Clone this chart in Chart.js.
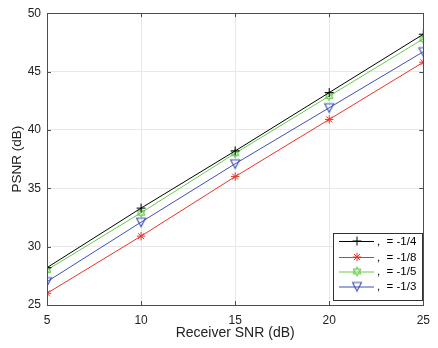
<!DOCTYPE html>
<html><head><meta charset="utf-8">
<script src="https://cdn.jsdelivr.net/npm/chart.js@4.4.0/dist/chart.umd.min.js"></script>
<style>html,body{margin:0;padding:0;background:#fff;}#wrap{width:438px;height:348px;}</style>
</head><body><div id="wrap"><canvas id="c" width="438" height="348"></canvas></div>
<script>
const snr = [5, 10, 15, 20, 25];
const seriesA = [28.2, 33.3, 38.2, 43.2, 48.2]; // -1/4
const seriesB = [26.0, 30.9, 36.0, 40.9, 45.8]; // -1/8
const seriesC = [28.0, 32.9, 38.0, 42.9, 47.8]; // -1/5
const seriesD = [27.0, 32.1, 37.1, 41.9, 46.7]; // -1/3
const labels = [',  = -1/4', ',  = -1/8', ',  = -1/5', ',  = -1/3'];
const yTicks = [25, 30, 35, 40, 45, 50];
const xTicks = [5, 10, 15, 20, 25];

function hexagram(color){
  const s=12, c=document.createElement('canvas'); c.width=s; c.height=s;
  const g=c.getContext('2d'); g.strokeStyle=color; g.lineWidth=1;
  const cx=s/2, cy=s/2, r=4.6;
  for(let k=0;k<2;k++){
    g.beginPath();
    for(let i=0;i<3;i++){
      const a=-Math.PI/2 + k*Math.PI + i*2*Math.PI/3;
      const x=cx+r*Math.cos(a), y=cy+r*Math.sin(a);
      if(i===0) g.moveTo(x,y); else g.lineTo(x,y);
    }
    g.closePath(); g.stroke();
  }
  return c;
}
function downTri(color){
  const s=12, c=document.createElement('canvas'); c.width=s; c.height=s;
  const g=c.getContext('2d'); g.strokeStyle=color; g.lineWidth=1.1;
  g.beginPath(); g.moveTo(1.5,2); g.lineTo(10.5,2); g.lineTo(6,10.5); g.closePath(); g.stroke();
  return c;
}
const colA='#000000', colB='#ea3326', colC='#66cc4c', colD='#3f51b5';
const mk = (data,col,label,style,rad)=>({
  label, data: data.map((v,i)=>({x:snr[i],y:v})), borderColor:col, backgroundColor:'rgba(0,0,0,0)',
  borderWidth:1, pointStyle:style, pointRadius:rad, pointBorderColor:col, pointBorderWidth:1,
  tension:0, fill:false
});
const datasets = [
  mk(seriesA,colA,labels[0],'cross',4.5),
  mk(seriesB,colB,labels[1],'star',4.2),
  mk(seriesC,colC,labels[2],hexagram(colC),5),
  mk(seriesD,colD,labels[3],downTri(colD),5),
];
const FONT='"Liberation Sans", Arial, sans-serif';

const frame = {
  id:'frame',
  afterDraw(chart){
    const {ctx, chartArea:a, scales:{x,y}} = chart;
    ctx.save();
    ctx.strokeStyle='#4d4d4d'; ctx.lineWidth=1;
    ctx.strokeRect(Math.round(a.left)+0.5, Math.round(a.top)+0.5, Math.round(a.right-a.left), Math.round(a.bottom-a.top));
    ctx.beginPath();
    xTicks.forEach(v=>{const px=Math.round(x.getPixelForValue(v))+0.5;
      ctx.moveTo(px,a.bottom); ctx.lineTo(px,a.bottom-4); ctx.moveTo(px,a.top); ctx.lineTo(px,a.top+4);});
    yTicks.forEach(v=>{const py=Math.round(y.getPixelForValue(v))+0.5;
      ctx.moveTo(a.left,py); ctx.lineTo(a.left+4,py); ctx.moveTo(a.right,py); ctx.lineTo(a.right-4,py);});
    ctx.stroke();
    // legend
    const L=333.5, T=233.5, W=89, H=67;
    ctx.fillStyle='#fff'; ctx.fillRect(L,T,W,H);
    ctx.strokeStyle='#333'; ctx.strokeRect(L,T,W,H);
    const rows=[241,257,271.5,286.5];
    ctx.font='11.5px '+FONT; ctx.textBaseline='middle'; ctx.fillStyle='#000';
    chart.data.datasets.forEach((ds,i)=>{
      const yy=rows[i];
      ctx.strokeStyle=ds.borderColor; ctx.lineWidth=1;
      ctx.beginPath(); ctx.moveTo(339,yy+0.5); ctx.lineTo(374,yy+0.5); ctx.stroke();
      Chart.helpers.drawPoint(ctx,{pointStyle:ds.pointStyle,radius:ds.pointRadius,rotation:0,borderWidth:1},357,yy);
      ctx.fillStyle='#000';
      ctx.fillText(ds.label,377,yy+0.5);
    });
    ctx.restore();
  }
};

new Chart(document.getElementById('c'), {
  type:'line',
  data:{datasets},
  plugins:[frame],
  options:{
    responsive:false, animation:false, maintainAspectRatio:false,
    layout:{padding:{left:0,right:12,top:6,bottom:0}},
    plugins:{legend:{display:false},tooltip:{enabled:false}},
    scales:{
      x:{type:'linear',min:5,max:25,
        afterBuildTicks(s){s.ticks=xTicks.map(v=>({value:v}));},
        afterFit(s){s.height=43;},
        grid:{color:'#e8e8e8',drawTicks:false,lineWidth:1},
        border:{display:false},
        ticks:{padding:8,color:'#222',font:{family:FONT,size:12},maxRotation:0},
        title:{display:true,text:'Receiver SNR (dB)',color:'#222',padding:{top:1,bottom:6},font:{family:FONT,size:14}}
      },
      y:{type:'linear',min:25,max:50,
        afterBuildTicks(s){s.ticks=yTicks.map(v=>({value:v}));},
        afterFit(s){s.width=47;},
        grid:{color:'#e8e8e8',drawTicks:false,lineWidth:1},
        border:{display:false},
        ticks:{padding:6,color:'#222',font:{family:FONT,size:12}},
        title:{display:true,text:'PSNR (dB)',color:'#222',padding:{top:9,bottom:0},font:{family:FONT,size:13.5}}
      }
    }
  }
});
</script></body></html>
